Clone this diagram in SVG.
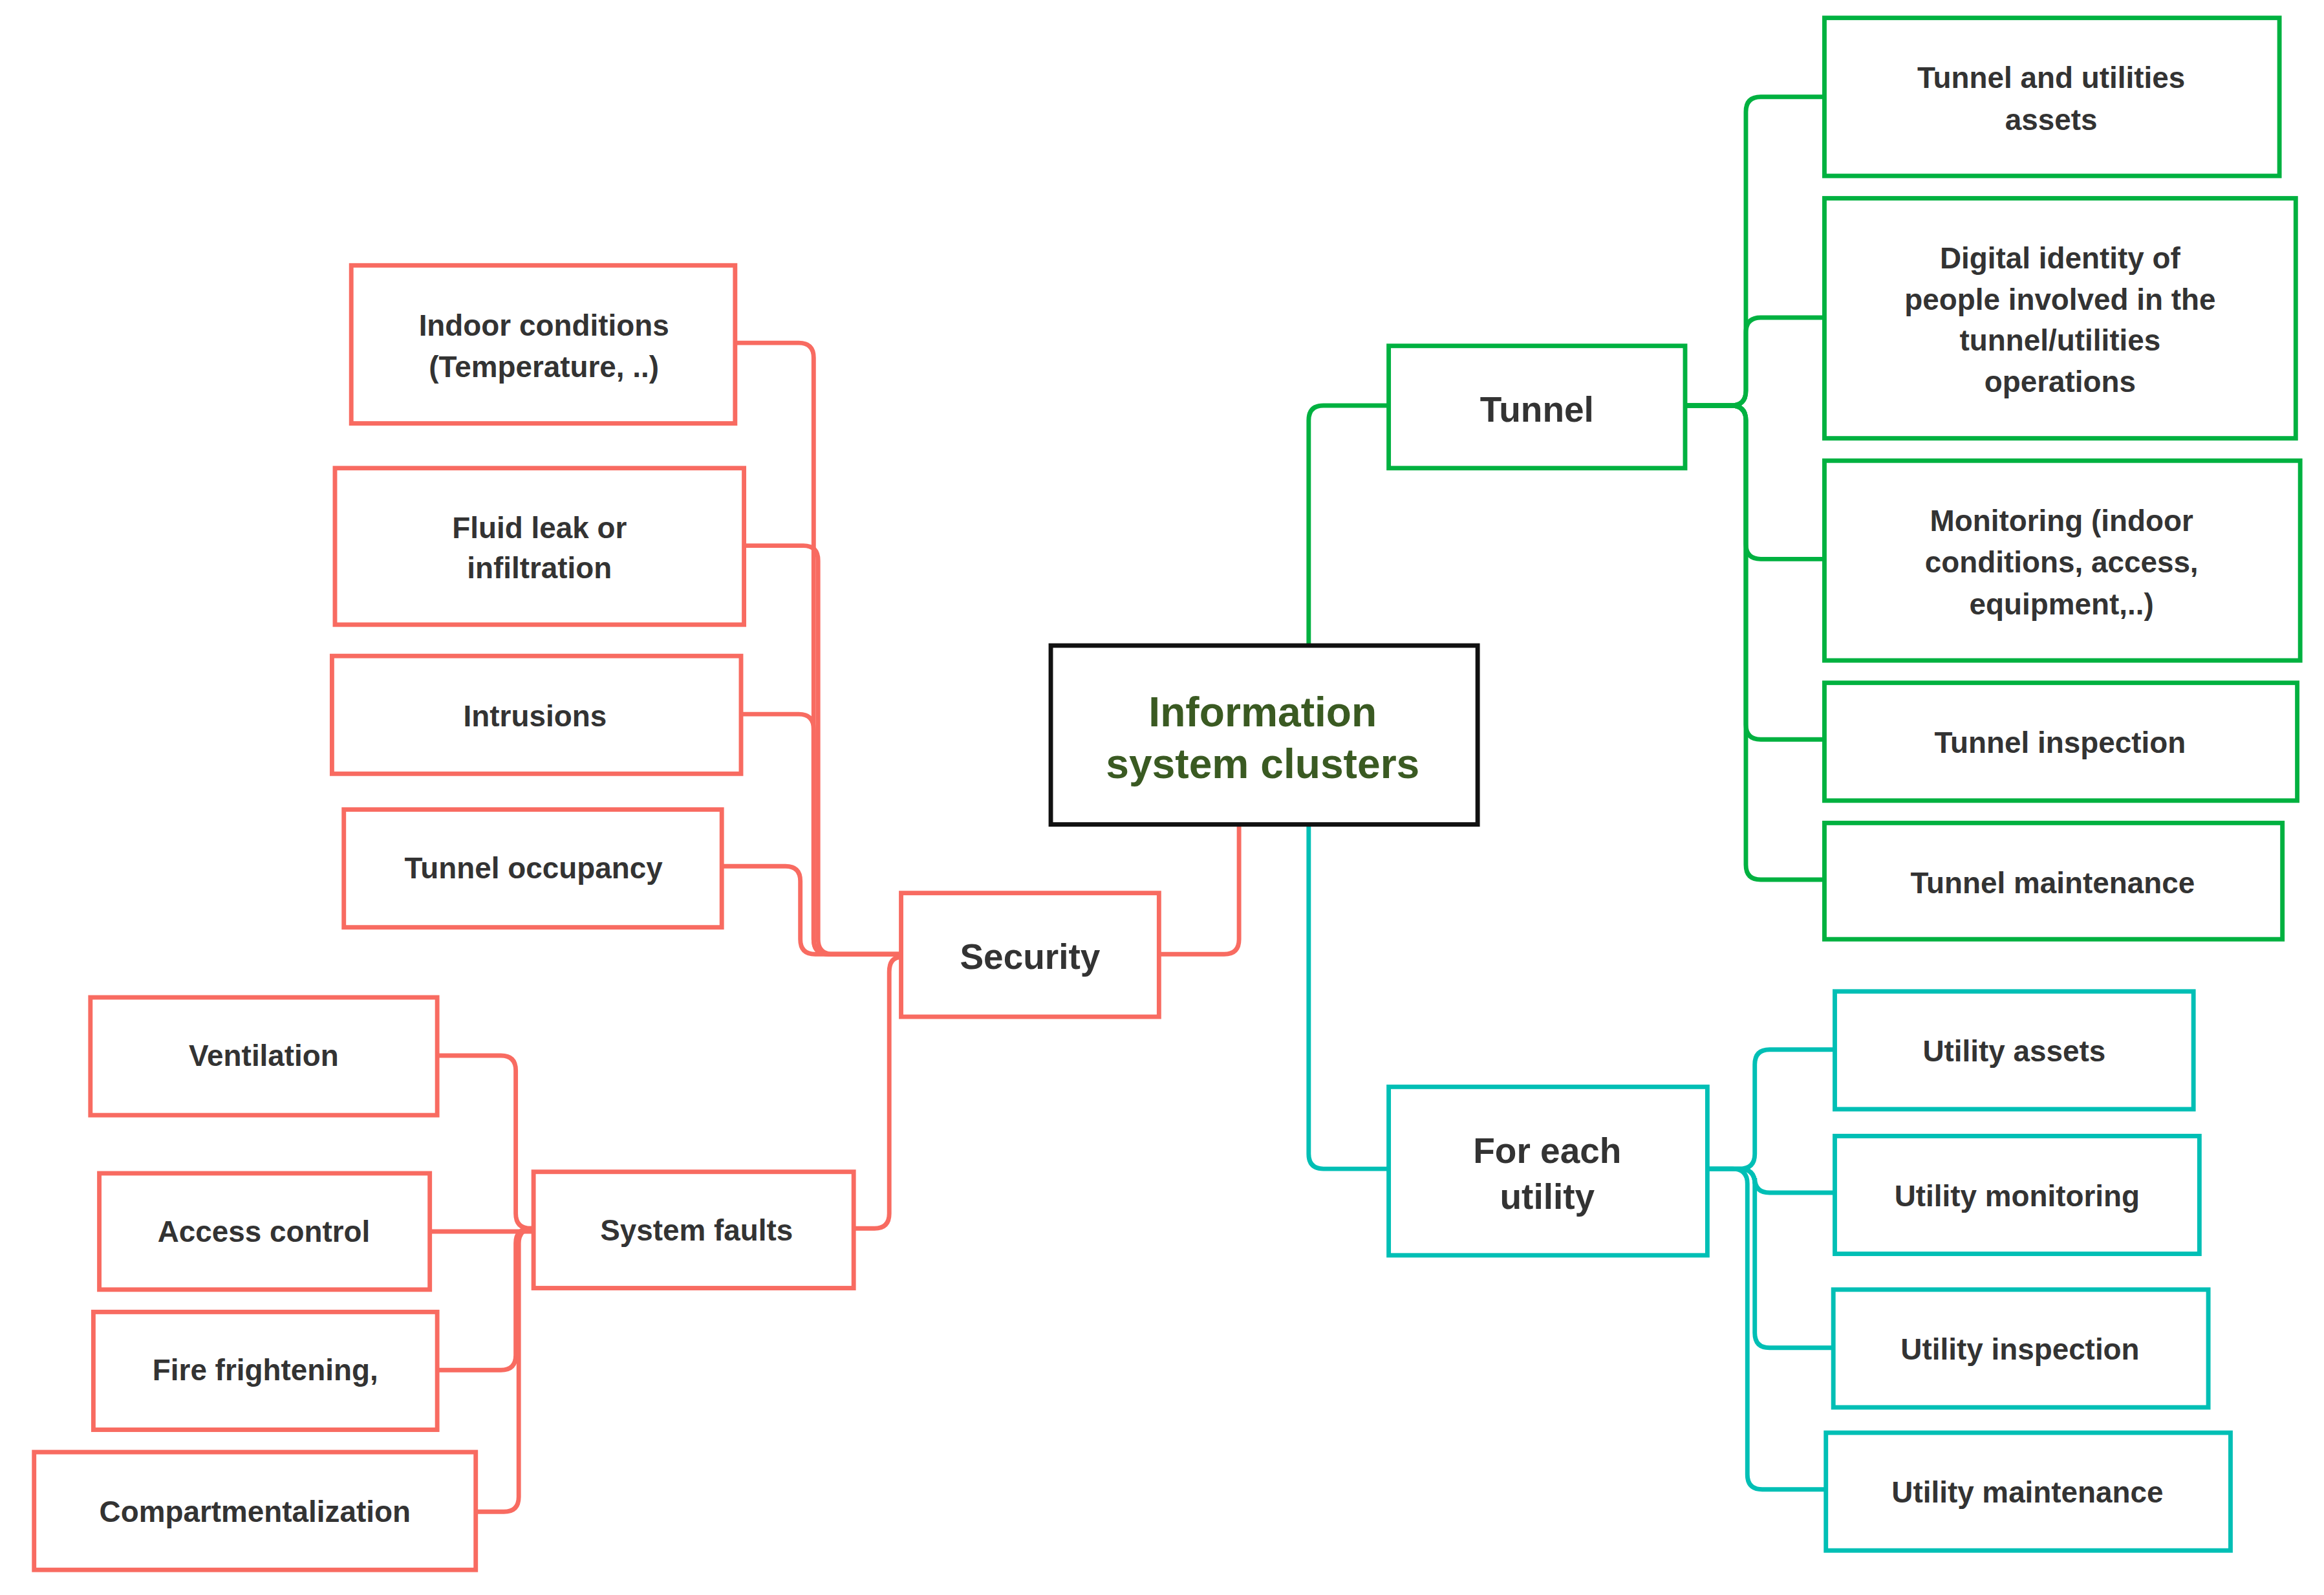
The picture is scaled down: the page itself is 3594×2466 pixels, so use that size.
<svg xmlns="http://www.w3.org/2000/svg" width="3594" height="2466" viewBox="0 0 3594 2466">
<style>
.r{fill:#fff;stroke:#f86b61;stroke-width:3}
.g{fill:#fff;stroke:#00b140;stroke-width:3}
.t{fill:#fff;stroke:#00bfb5;stroke-width:3}
.k{fill:#fff;stroke:#111;stroke-width:3}
text{font-family:"Liberation Sans",Arial,sans-serif;font-weight:bold;fill:#333;text-anchor:middle;font-size:20px}
.big{font-size:24px}
.c{font-size:28px;fill:#3a5a22}
.lr{fill:none;stroke:#f86b61;stroke-width:3}
.lg{fill:none;stroke:#00b140;stroke-width:3}
.lt{fill:none;stroke:#00bfb5;stroke-width:3}
</style>
<rect width="3594" height="2466" fill="#fff"/>
<g transform="scale(2.292,2.305)">
<g id="connectors">
<path class="lg" d="M883,433 V282 Q883,272 893,272 H937"/>
<path class="lt" d="M883,553 V774 Q883,784 893,784 H937"/>
<path class="lr" d="M836,553 V630 Q836,640 826,640 H782"/>
<path class="lg" d="M1137,272 H1168 Q1178,272 1178,262 V75 Q1178,65 1188,65 H1231"/>
<path class="lg" d="M1137,272 H1168 Q1178,272 1178,262 V223 Q1178,213 1188,213 H1231"/>
<path class="lg" d="M1137,272 H1168 Q1178,272 1178,282 V365 Q1178,375 1188,375 H1231"/>
<path class="lg" d="M1137,272 H1168 Q1178,272 1178,282 V486 Q1178,496 1188,496 H1231"/>
<path class="lg" d="M1137,272 H1168 Q1178,272 1178,282 V580 Q1178,590 1188,590 H1231"/>
<path class="lt" d="M1152,784 H1174 Q1184,784 1184,774 V714 Q1184,704 1194,704 H1238"/>
<path class="lt" d="M1152,784 H1174 Q1184,784 1184,794 V790 Q1184,800 1194,800 H1238"/>
<path class="lt" d="M1152,784 H1174 Q1184,784 1184,794 V894 Q1184,904 1194,904 H1237"/>
<path class="lt" d="M1152,784 H1169 Q1179,784 1179,794 V989 Q1179,999 1189,999 H1232"/>
<path class="lr" d="M608,640 H559 Q549,640 549,630 V240 Q549,230 539,230 H496"/>
<path class="lr" d="M608,640 H562 Q552,640 552,630 V376 Q552,366 542,366 H502"/>
<path class="lr" d="M608,640 H559 Q549,640 549,630 V489 Q549,479 539,479 H500"/>
<path class="lr" d="M608,640 H550 Q540,640 540,630 V591 Q540,581 530,581 H487"/>
<path class="lr" d="M608,642 Q600,642 600,652 V814 Q600,824 590,824 H576"/>
<path class="lr" d="M360,824 H358 Q348,824 348,814 V718 Q348,708 338,708 H295"/>
<path class="lr" d="M360,826 H290"/>
<path class="lr" d="M360,824 H358 Q348,824 348,834 V909 Q348,919 338,919 H295"/>
<path class="lr" d="M360,824 H360 Q350,824 350,834 V1004 Q350,1014 340,1014 H321"/>
</g>
<g id="central"><rect class="k" x="709" y="433" width="288" height="120"/><text class="c" x="852" y="487">Information</text><text class="c" x="852" y="522">system clusters</text></g>
<g id="tunnel"><rect class="g" x="937" y="232" width="200" height="82"/><text class="big" x="1037" y="283">Tunnel</text></g>
<g id="g1"><rect class="g" x="1231" y="12" width="307" height="106"/><text x="1384" y="59">Tunnel and utilities</text><text x="1384" y="87">assets</text></g>
<g id="g2"><rect class="g" x="1231" y="133" width="318" height="161"/><text x="1390" y="180">Digital identity of</text><text x="1390" y="208">people involved in the</text><text x="1390" y="235">tunnel/utilities</text><text x="1390" y="263">operations</text></g>
<g id="g3"><rect class="g" x="1231" y="309" width="321" height="134"/><text x="1391" y="356">Monitoring (indoor</text><text x="1391" y="384">conditions, access,</text><text x="1391" y="412">equipment,..)</text></g>
<g id="g4"><rect class="g" x="1231" y="458" width="319" height="79"/><text x="1390" y="505">Tunnel inspection</text></g>
<g id="g5"><rect class="g" x="1231" y="552" width="309" height="78"/><text x="1385" y="599">Tunnel maintenance</text></g>
<g id="utility"><rect class="t" x="937" y="729" width="215" height="113"/><text class="big" x="1044" y="780">For each</text><text class="big" x="1044" y="811">utility</text></g>
<g id="u1"><rect class="t" x="1238" y="665" width="242" height="79"/><text x="1359" y="712">Utility assets</text></g>
<g id="u2"><rect class="t" x="1238" y="762" width="246" height="79"/><text x="1361" y="809">Utility monitoring</text></g>
<g id="u3"><rect class="t" x="1237" y="865" width="253" height="79"/><text x="1363" y="912">Utility inspection</text></g>
<g id="u4"><rect class="t" x="1232" y="961" width="273" height="79"/><text x="1368" y="1008">Utility maintenance</text></g>
<g id="security"><rect class="r" x="608" y="599" width="174" height="83"/><text class="big" x="695" y="650">Security</text></g>
<g id="s1"><rect class="r" x="237" y="178" width="259" height="106"/><text x="367" y="225">Indoor conditions</text><text x="367" y="253">(Temperature, ..)</text></g>
<g id="s2"><rect class="r" x="226" y="314" width="276" height="105"/><text x="364" y="361">Fluid leak or</text><text x="364" y="388">infiltration</text></g>
<g id="s3"><rect class="r" x="224" y="440" width="276" height="79"/><text x="361" y="487">Intrusions</text></g>
<g id="s4"><rect class="r" x="232" y="543" width="255" height="79"/><text x="360" y="589">Tunnel occupancy</text></g>
<g id="faults"><rect class="r" x="360" y="786" width="216" height="78"/><text x="470" y="832">System faults</text></g>
<g id="f1"><rect class="r" x="61" y="669" width="234" height="79"/><text x="178" y="715">Ventilation</text></g>
<g id="f2"><rect class="r" x="67" y="787" width="223" height="78"/><text x="178" y="833">Access control</text></g>
<g id="f3"><rect class="r" x="63" y="880" width="232" height="79"/><text x="179" y="926">Fire frightening,</text></g>
<g id="f4"><rect class="r" x="23" y="974" width="298" height="79"/><text x="172" y="1021">Compartmentalization</text></g>
</g>
</svg>
